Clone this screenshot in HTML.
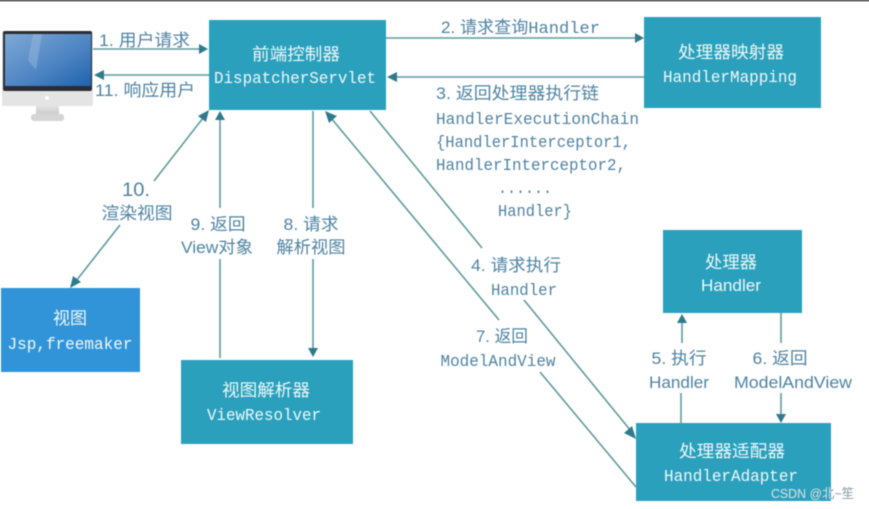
<!DOCTYPE html>
<html>
<head>
<meta charset="utf-8">
<style>
html,body{margin:0;padding:0;background:#fff;width:869px;height:509px;overflow:hidden}
svg{display:block}
#d{filter:blur(.45px)}
text{font-family:"Liberation Sans","Noto Sans CJK SC",sans-serif}
.m{font-family:"Liberation Mono","Noto Sans CJK SC",monospace}
.w{fill:#eef8fa;font-size:17px;text-anchor:middle}
.w.m{font-size:16.5px}
.b{fill:#4f83a3;font-size:17px}
.b.m{font-size:16.5px}
.c{text-anchor:middle}
.l{stroke:#5f9a9e;stroke-width:1.6;fill:none}
.a{fill:#2f7a8c}
</style>
</head>
<body>
<svg width="869" height="509" viewBox="0 0 869 509" xmlns="http://www.w3.org/2000/svg">
<defs>
<linearGradient id="sc" x1="0" y1="0" x2="1" y2="1"><stop offset="0" stop-color="#7fa9d6"/><stop offset=".6" stop-color="#4a82c2"/><stop offset="1" stop-color="#1f62ac"/></linearGradient>
<linearGradient id="st" x1="0" y1="0" x2="0" y2="1"><stop offset="0" stop-color="#e2e2e2"/><stop offset="1" stop-color="#c9c9c9"/></linearGradient>
<clipPath id="inBox"><rect x="636" y="423" width="195" height="78"/></clipPath>
</defs>
<rect x="0" y="0" width="869" height="1.5" fill="#666"/>

<g id="d">
<!-- monitor -->
<rect x="2" y="31" width="91" height="75" rx="2" fill="#e4e4e4"/>
<rect x="3" y="31" width="89" height="60" rx="2" fill="#2a2d33"/>
<rect x="5" y="34" width="86" height="52" fill="url(#sc)"/>
<path d="M33 34 L42 34 L36 70 L28 60 Z" fill="#a3c4e4" opacity=".4"/>
<circle cx="47" cy="98" r="2" fill="#fff"/>
<rect x="36" y="106" width="23" height="9" fill="url(#st)"/>
<rect x="31" y="114" width="33" height="7" rx="3" fill="#d5d5d5"/>

<!-- boxes -->
<rect x="209" y="20" width="177" height="90" fill="#2ba0bc"/>
<rect x="644" y="17" width="177" height="91" fill="#2ba0bc"/>
<rect x="663" y="230" width="139" height="83" fill="#2ba0bc"/>
<rect x="636" y="423" width="195" height="78" fill="#2ba0bc"/>
<rect x="1" y="288" width="139" height="84" fill="#3294d8"/>
<rect x="181" y="360" width="172" height="84" fill="#2ba0bc"/>

<!-- box text -->
<text class="w" x="296" y="60" textLength="88" lengthAdjust="spacingAndGlyphs">前端控制器</text>
<text class="w m" x="295" y="83" textLength="162" lengthAdjust="spacingAndGlyphs">DispatcherServlet</text>
<text class="w" x="731" y="58" textLength="106" lengthAdjust="spacingAndGlyphs">处理器映射器</text>
<text class="w m" x="730" y="82" textLength="134" lengthAdjust="spacingAndGlyphs">HandlerMapping</text>
<text class="w" x="731" y="268" textLength="52" lengthAdjust="spacingAndGlyphs">处理器</text>
<text class="w" x="731" y="291" textLength="60" lengthAdjust="spacingAndGlyphs">Handler</text>
<text class="w" x="732" y="457" textLength="106" lengthAdjust="spacingAndGlyphs">处理器适配器</text>
<text class="w m" x="731" y="481" textLength="134" lengthAdjust="spacingAndGlyphs">HandlerAdapter</text>
<text class="w" x="70" y="324" textLength="34" lengthAdjust="spacingAndGlyphs">视图</text>
<text class="w m" x="70" y="349" textLength="125" lengthAdjust="spacingAndGlyphs">Jsp,freemaker</text>
<text class="w" x="266" y="396" textLength="88" lengthAdjust="spacingAndGlyphs">视图解析器</text>
<text class="w m" x="264" y="420" textLength="114" lengthAdjust="spacingAndGlyphs">ViewResolver</text>

<!-- connectors -->
<path class="l" d="M93 49 H200"/><path class="a" d="M208 49 L199 44 V54 Z"/>
<path class="l" d="M209 75 H103"/><path class="a" d="M94 75 L104 70 V80 Z"/>
<path class="l" d="M386 38 H636"/><path class="a" d="M644 38 L635 33 V43 Z"/>
<path class="l" d="M644 77 H396"/><path class="a" d="M387 77 L397 72 V82 Z"/>
<path class="l" d="M154 181 L203 118"/><path class="a" d="M209 110 L198 116 L206 122 Z"/>
<path class="l" d="M120 225 L76 281"/><path class="a" d="M70 288 L81 282 L73 276 Z"/>
<path class="l" d="M220 208 V119"/><path class="a" d="M220 111 L215 120 H225 Z"/>
<path class="l" d="M220 259 V358"/>
<path class="l" d="M313 111 V208"/>
<path class="l" d="M313 259 V349"/><path class="a" d="M313 357 L308 348 H318 Z"/>
<path class="l" d="M370 111 L482 248"/>
<path class="l" d="M524 300 L631 431"/><path class="a" d="M636 439 L632 426 L624 433 Z"/>
<path class="l" d="M636 487 L540 372"/>
<path class="l" d="M499 320 L331 118"/><path class="a" d="M325 111 L329 123 L337 116 Z"/>
<path class="l" d="M682 343 V323"/><path class="a" d="M682 314 L677 323 H687 Z"/>
<path class="l" d="M681 393 V423"/>
<path class="l" d="M781 313 V343"/>
<path class="l" d="M781 393 V414"/><path class="a" d="M781 423 L776 414 H786 Z"/>

<!-- labels -->
<text class="b" x="99" y="46" textLength="91" lengthAdjust="spacingAndGlyphs">1. 用户请求</text>
<text class="b" x="95" y="96" textLength="100" lengthAdjust="spacingAndGlyphs">11. 响应用户</text>
<text class="b" x="441" y="33" textLength="159" lengthAdjust="spacingAndGlyphs">2. 请求查询<tspan class="m">Handler</tspan></text>
<text class="b" x="436" y="99" textLength="163" lengthAdjust="spacingAndGlyphs">3. 返回处理器执行链</text>
<text class="b m" x="436" y="124" textLength="203" lengthAdjust="spacingAndGlyphs">HandlerExecutionChain</text>
<text class="b m" x="436" y="147" textLength="195" lengthAdjust="spacingAndGlyphs">{HandlerInterceptor1,</text>
<text class="b m" x="436" y="170" textLength="190" lengthAdjust="spacingAndGlyphs">HandlerInterceptor2,</text>
<text class="b m" x="498" y="193" textLength="54" lengthAdjust="spacingAndGlyphs">......</text>
<text class="b m" x="498" y="216" textLength="74" lengthAdjust="spacingAndGlyphs">Handler}</text>
<text class="b c" x="136" y="196" style="font-size:19px" textLength="28" lengthAdjust="spacingAndGlyphs">10.</text>
<text class="b c" x="137" y="219" textLength="71" lengthAdjust="spacingAndGlyphs">渲染视图</text>
<text class="b c" x="218" y="230" textLength="55" lengthAdjust="spacingAndGlyphs">9. 返回</text>
<text class="b c" x="217" y="253" textLength="72" lengthAdjust="spacingAndGlyphs">View对象</text>
<text class="b c" x="311" y="230" textLength="55" lengthAdjust="spacingAndGlyphs">8. 请求</text>
<text class="b c" x="311" y="253" textLength="69" lengthAdjust="spacingAndGlyphs">解析视图</text>
<text class="b c" x="516" y="271" textLength="90" lengthAdjust="spacingAndGlyphs">4. 请求执行</text>
<text class="b c m" x="524" y="295" textLength="66" lengthAdjust="spacingAndGlyphs">Handler</text>
<text class="b c" x="502" y="342" textLength="52" lengthAdjust="spacingAndGlyphs">7. 返回</text>
<text class="b c m" x="498" y="366" textLength="115" lengthAdjust="spacingAndGlyphs">ModelAndView</text>
<text class="b c" x="679" y="364" textLength="55" lengthAdjust="spacingAndGlyphs">5. 执行</text>
<text class="b c" x="679" y="388" textLength="60" lengthAdjust="spacingAndGlyphs">Handler</text>
<text class="b c" x="780" y="364" textLength="55" lengthAdjust="spacingAndGlyphs">6. 返回</text>
<text class="b c" x="793" y="388" textLength="118" lengthAdjust="spacingAndGlyphs">ModelAndView</text>

<text x="771" y="498" font-size="13" fill="#8d9aa3" textLength="83" lengthAdjust="spacingAndGlyphs">CSDN @北~笙</text>
<text x="771" y="498" font-size="13" fill="#d5e2e7" clip-path="url(#inBox)" textLength="83" lengthAdjust="spacingAndGlyphs">CSDN @北~笙</text>
</g>
</svg>
</body>
</html>
